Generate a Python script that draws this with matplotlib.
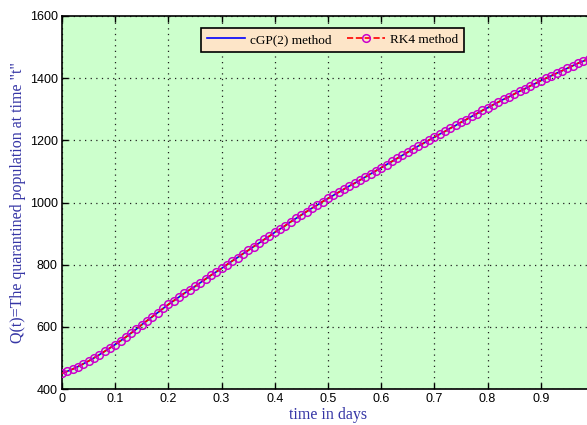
import matplotlib
matplotlib.use('Agg')
import matplotlib.pyplot as plt
import numpy as np

# time grid and values (one per marker)
t_days = np.linspace(0, 1, 101)
q_cgp = [450, 457, 464, 472, 481, 490, 500, 510, 521, 532,
         543, 555, 567, 580, 593, 607, 620, 633, 646, 659,
         672, 684, 696, 708, 719, 730, 742, 754, 766, 777,
         788, 800, 812, 823, 835, 846, 858, 869, 881, 892,
         904, 915, 926, 938, 949, 960, 971, 982, 992, 1003,
         1013, 1023, 1033, 1043, 1053, 1062, 1072, 1082, 1092, 1102,
         1112, 1122, 1132, 1142, 1152, 1162, 1172, 1182, 1191, 1201,
         1210, 1220, 1229, 1239, 1248, 1258, 1267, 1277, 1286, 1296,
         1305, 1314, 1323, 1332, 1340, 1349, 1358, 1366, 1375, 1383,
         1392, 1400, 1408, 1416, 1424, 1432, 1440, 1448, 1455, 1463,
         1470]
q_rk4 = list(q_cgp)  # both methods overlap on the plot

x_ticks = [0, 0.1, 0.2, 0.3, 0.4, 0.5, 0.6, 0.7, 0.8, 0.9]
x_ticklabels = ['0', '0.1', '0.2', '0.3', '0.4', '0.5', '0.6', '0.7', '0.8', '0.9']
y_ticks = [400, 600, 800, 1000, 1200, 1400, 1600]

fig = plt.figure(figsize=(5.87, 4.25), dpi=100)
fig.patch.set_facecolor('white')
ax = fig.add_axes([62/587, 36/425, 532/587, 373/425])
ax.set_facecolor('#ccffcc')

ax.plot(t_days, q_cgp, color='blue', lw=1.2, label='cGP(2) method', zorder=3)
ax.plot(t_days, q_rk4, color='red', ls='--', lw=1.2, marker='o', ms=5.5,
        mfc='none', mec='#cc00cc', mew=1.1, label='RK4 method', zorder=4)

ax.set_xlim(0, 1)
ax.set_ylim(400, 1600)
ax.set_xticks(x_ticks)
ax.set_xticklabels(x_ticklabels)
ax.set_yticks(y_ticks)
ax.tick_params(direction='in', length=4, width=1, top=True, right=True,
               labelsize=9, pad=3)
for lab in ax.get_xticklabels() + ax.get_yticklabels():
    lab.set_family('Liberation Sans')
for s in ax.spines.values():
    s.set_linewidth(1.2)
ax.grid(True, ls=(0, (1, 3.5)), color='#202020', lw=0.9)

ax.set_xlabel('time in days', family='Liberation Serif', fontsize=11.5,
              color='#3535a5', labelpad=1)
ax.set_ylabel('Q(t)=The quarantined population at time "t"',
              family='Liberation Serif', fontsize=11.5, color='#3535a5', labelpad=3)

leg = ax.legend(loc='upper center', ncol=2, bbox_to_anchor=(0.508, 0.968),
                prop={'family': 'Liberation Serif', 'size': 9.5},
                fancybox=False, framealpha=1, edgecolor='black',
                facecolor='#fde5c8', handlelength=2.9, handletextpad=0.35,
                columnspacing=1.2, borderpad=0.45, borderaxespad=0)
leg.get_frame().set_linewidth(1.2)

fig.savefig('out.png', dpi=100)
